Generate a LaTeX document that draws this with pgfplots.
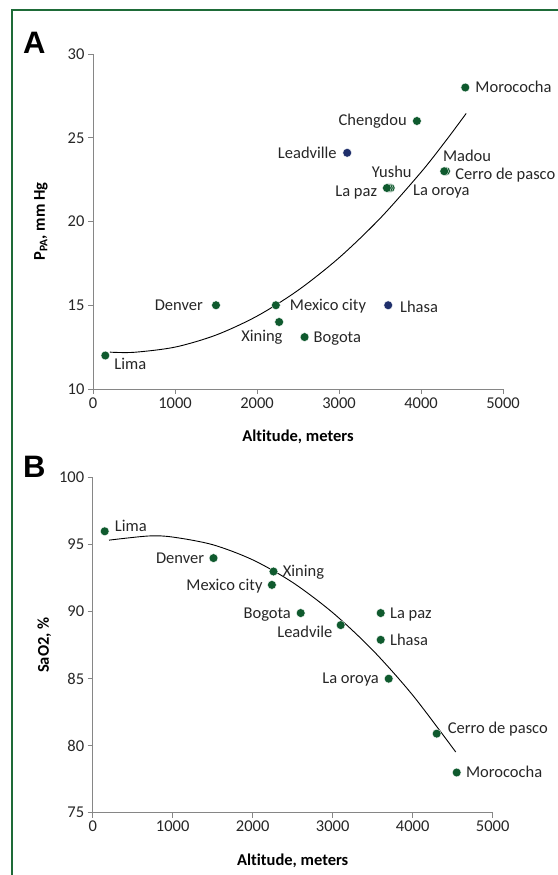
\documentclass[border=0pt]{standalone}
\usepackage{fontspec}
\setmainfont{Carlito}[Ligatures=NoCommon]
\newfontfamily\arialfont{Liberation Sans}
\usepackage{pgfplots}
\pgfplotsset{compat=1.18}
\definecolor{mkgreen}{HTML}{0F5A2E}
\definecolor{mkblue}{HTML}{1F2F6B}
\definecolor{framegreen}{HTML}{1E6B38}
\definecolor{axgray}{HTML}{868686}
\tikzset{lbl/.style={font=\fontsize{16.5}{19}\selectfont, inner sep=0pt, text height=10.6pt, text depth=0pt, text=black!85}}
\pgfplotsset{
  myax/.style={
    scale only axis, clip=false,
    axis lines*=left,
    axis line style={-, draw=axgray, line width=0.9pt},
    tick align=outside, major tick length=5pt,
    tick style={draw=axgray, line width=0.9pt},
    xmin=0, xmax=5000, xtick={0,1000,2000,3000,4000,5000},
    /pgf/number format/assume math mode=true,
    /pgf/number format/set thousands separator={},
    ticklabel style={font=\fontsize{16.5}{19}\selectfont, text=black!85},
    label style={font=\bfseries\fontsize{16.5}{19}\selectfont},
    xlabel={Altitude, meters},
    xlabel style={at={(axis description cs:0.5,-0.143)}, anchor=center},
  },
  gm/.style={only marks, mark=*, mark size=4.4pt, mark options={fill=mkgreen, draw=white, line width=0.35pt}},
  bm/.style={only marks, mark=*, mark size=4.4pt, mark options={fill=mkblue, draw=white, line width=0.35pt}},
}
\begin{document}
\begin{tikzpicture}[x=1pt,y=1pt]
\useasboundingbox (0,0) rectangle (557,875);
\draw[framegreen, line width=2pt] (11.5,-3) -- (11.5,864.5) -- (560,864.5);
\node[anchor=base west, inner sep=0pt, font=\arialfont\bfseries\fontsize{31}{31}\selectfont] at (23,821) {A};
\node[anchor=base west, inner sep=0pt, font=\arialfont\bfseries\fontsize{31}{31}\selectfont] at (23,397) {B};

% ---------- Panel A ----------
\begin{axis}[myax, at={(93pt,486pt)}, anchor=south west,
  width=410pt, height=335pt,
  ymin=10, ymax=30, ytick={10,15,20,25,30},
  ylabel={P\textsubscript{PA}, mm Hg},
  ylabel style={at={(axis description cs:-0.127,0.5)}, anchor=center},
]
\addplot[black, line width=0.9pt, smooth] coordinates {
(207,12.20) (500,12.19) (1000,12.50) (1500,13.22) (2000,14.35) (2500,15.89)
(3000,17.83) (3500,20.18) (4000,22.94) (4300,24.80) (4551,26.45)};
\addplot[gm] coordinates {(3630,22) (3607,22) (3584,22) (4305,23) (4283,23)};
\addplot[gm] coordinates {(150,12) (1500,15) (2230,15) (2270,14) (2580,13.1) (3950,26) (4540,28)};
\addplot[bm] coordinates {(3100,24.1) (3600,15)};
\node[lbl, anchor=west, xshift=8.9pt, yshift=-8.7pt] at (axis cs:150,12) {Lima};
\node[lbl, anchor=east, xshift=-13pt] at (axis cs:1500,15) {Denver};
\node[lbl, anchor=west, xshift=13.9pt] at (axis cs:2230,15) {Mexico city};
\node[lbl, anchor=east, xshift=3.6pt, yshift=-14.3pt] at (axis cs:2270,14) {Xining};
\node[lbl, anchor=west, xshift=8.9pt] at (axis cs:2580,13.1) {Bogota};
\node[lbl, anchor=east, xshift=-10.3pt] at (axis cs:3100,24.1) {Leadville};
\node[lbl, anchor=east, xshift=-10pt, yshift=1pt] at (axis cs:3950,26) {Chengdou};
\node[lbl, anchor=west, xshift=10pt] at (axis cs:4540,28) {Morococha};
\node[lbl, anchor=east, xshift=24.9pt, yshift=15.3pt] at (axis cs:3584,22) {Yushu};
\node[lbl, anchor=east, xshift=-9.6pt, yshift=-3pt] at (axis cs:3584,22) {La paz};
\node[lbl, anchor=west, xshift=26pt, yshift=-2.3pt] at (axis cs:3584,22) {La oroya};
\node[lbl, anchor=west, xshift=-1.4pt, yshift=15pt] at (axis cs:4283,23) {Madou};
\node[lbl, anchor=west, xshift=11pt, yshift=-2.7pt] at (axis cs:4283,23) {Cerro de pasco};
\node[lbl, anchor=west, xshift=11.7pt, yshift=-1.7pt] at (axis cs:3600,15) {Lhasa};
\end{axis}

% ---------- Panel B ----------
\begin{axis}[myax, at={(92.7pt,62.3pt)}, anchor=south west,
  width=400pt, height=335pt,
  ymin=75, ymax=100, ytick={75,80,85,90,95,100},
  ylabel={SaO2, \%},
  ylabel style={at={(axis description cs:-0.121,0.5)}, anchor=center},
]
\addplot[black, line width=0.9pt, smooth] coordinates {
(204,95.34) (700,95.65) (1000,95.57) (1500,95.00) (2000,93.87) (2500,92.18)
(3000,89.93) (3500,87.13) (4000,83.77) (4538,79.53)};
\addplot[gm] coordinates {(150,96) (1510,94) (2260,93) (2240,92) (2600,89.9) (3100,89)
(3600,89.9) (3600,87.9) (3700,85) (4300,80.9) (4550,78)};
\node[lbl, anchor=west, xshift=10pt, yshift=4.7pt] at (axis cs:150,96) {Lima};
\node[lbl, anchor=east, xshift=-9.2pt] at (axis cs:1510,94) {Denver};
\node[lbl, anchor=west, xshift=9.2pt] at (axis cs:2260,93) {Xining};
\node[lbl, anchor=east, xshift=-9.2pt] at (axis cs:2240,92) {Mexico city};
\node[lbl, anchor=east, xshift=-9.6pt] at (axis cs:2600,89.9) {Bogota};
\node[lbl, anchor=east, xshift=-8.2pt, yshift=-6.7pt] at (axis cs:3100,89) {Leadvile};
\node[lbl, anchor=west, xshift=9.2pt] at (axis cs:3600,89.9) {La paz};
\node[lbl, anchor=west, xshift=9.2pt] at (axis cs:3600,87.9) {Lhasa};
\node[lbl, anchor=east, xshift=-9.6pt] at (axis cs:3700,85) {La oroya};
\node[lbl, anchor=west, xshift=11pt, yshift=5pt] at (axis cs:4300,80.9) {Cerro de pasco};
\node[lbl, anchor=west, xshift=9.2pt] at (axis cs:4550,78) {Morococha};
\end{axis}
\end{tikzpicture}
\end{document}
